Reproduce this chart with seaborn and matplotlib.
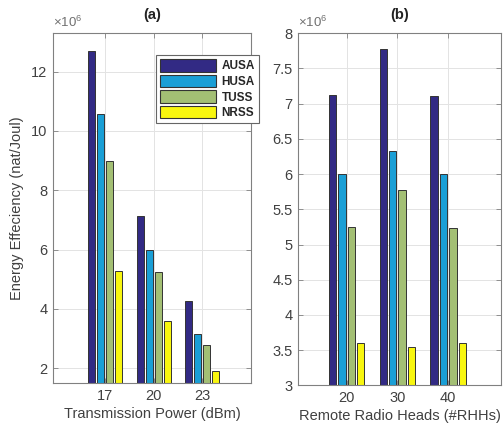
import pandas as pd
import matplotlib
matplotlib.use('Agg')
import matplotlib.pyplot as plt
import seaborn as sns

# data (values in units of 1e6 nat/Joul)
schemes = ['AUSA', 'HUSA', 'TUSS', 'NRSS']
power_labels = ['17', '20', '23']
rrh_labels = ['20', '30', '40']

ee_power = {
    'AUSA': [12.68, 7.13, 4.25],
    'HUSA': [10.56, 6.00, 3.16],
    'TUSS': [9.00, 5.25, 2.79],
    'NRSS': [5.26, 3.60, 1.92],
}
ee_rrh = {
    'AUSA': [7.12, 7.78, 7.11],
    'HUSA': [6.00, 6.32, 6.00],
    'TUSS': [5.25, 5.78, 5.24],
    'NRSS': [3.60, 3.55, 3.60],
}

colors = {'AUSA': '#322a84', 'HUSA': '#1a9fd6', 'TUSS': '#a3bf74', 'NRSS': '#f8f60f'}


def _long(values, cats):
    rows = []
    for s in schemes:
        for c, v in zip(cats, values[s]):
            rows.append({'x': c, 'scheme': s, 'ee': v})
    return pd.DataFrame(rows)


sns.set_theme(style='white')
plt.rcParams['font.family'] = ['Liberation Sans', 'DejaVu Sans']
plt.rcParams['mathtext.fontset'] = 'custom'
plt.rcParams['mathtext.rm'] = 'Liberation Sans'
plt.rcParams['mathtext.it'] = 'Liberation Sans'

fig = plt.figure(figsize=(5.03, 4.34), dpi=100)
ax1 = fig.add_axes([0.1054, 0.1175, 0.3936, 0.8065])
ax2 = fig.add_axes([0.5924, 0.1118, 0.4036, 0.8120])

text_col = '#404040'
spine_col = '#808080'

panels = [
    (ax1, _long(ee_power, power_labels), power_labels, (1.5, 13.3), (-1.07, 3.0),
     'Transmission Power (dBm)', '(a)', [2, 4, 6, 8, 10, 12]),
    (ax2, _long(ee_rrh, rrh_labels), rrh_labels, (3.0, 8.0), (-0.96, 3.04),
     'Remote Radio Heads (#RHHs)', '(b)', [3, 3.5, 4, 4.5, 5, 5.5, 6, 6.5, 7, 7.5, 8]),
]

for ax, df, cats, ylim, xlim, xlabel, title, yticks in panels:
    sns.barplot(data=df, x='x', y='ee', hue='scheme', order=cats, hue_order=schemes,
                palette=colors, width=0.74, gap=0.22, edgecolor='#333333',
                linewidth=0.7, saturation=1, ax=ax, legend=False)
    ax.set_xlim(*xlim)
    ax.set_ylim(*ylim)
    ax.set_yticks(yticks)
    ax.set_yticklabels([f'{t:g}' for t in yticks])
    ax.set_axisbelow(True)
    ax.grid(True, color='#e3e3e3', linewidth=0.7)
    ax.tick_params(direction='in', bottom=True, left=True, top=True, right=True,
                   length=3.5, width=0.6, color=spine_col, labelsize=10.5,
                   labelcolor=text_col, pad=4)
    for sp in ax.spines.values():
        sp.set_color(spine_col)
        sp.set_linewidth(0.8)
    ax.set_xlabel(xlabel, fontsize=10.5, color=text_col, labelpad=3)
    ax.set_ylabel('')
    ax.set_title(title, fontsize=10.5, fontweight='bold', color='#222222', pad=10)
    ax.text(0.0, 1.008, r'$\times10^{6}$', transform=ax.transAxes, ha='left', va='bottom',
            fontsize=9.5, color='#707070')

ax1.set_ylabel('Energy Effeciency (nat/Joul)', fontsize=10.5, color=text_col, labelpad=5)

handles = [plt.Rectangle((0, 0), 1, 1, facecolor=colors[s], edgecolor='#333333', linewidth=0.8)
           for s in schemes]
leg = fig.legend(handles, schemes, loc='upper left', bbox_to_anchor=(0.31, 0.873),
                 borderaxespad=0, prop={'weight': 'bold', 'size': 8.5}, handlelength=4.7,
                 handleheight=1.25, labelspacing=0.2, handletextpad=0.5, borderpad=0.35,
                 fancybox=False, framealpha=1, edgecolor='#666666')
leg.get_frame().set_linewidth(0.8)

fig.savefig('out.png', dpi=100)
